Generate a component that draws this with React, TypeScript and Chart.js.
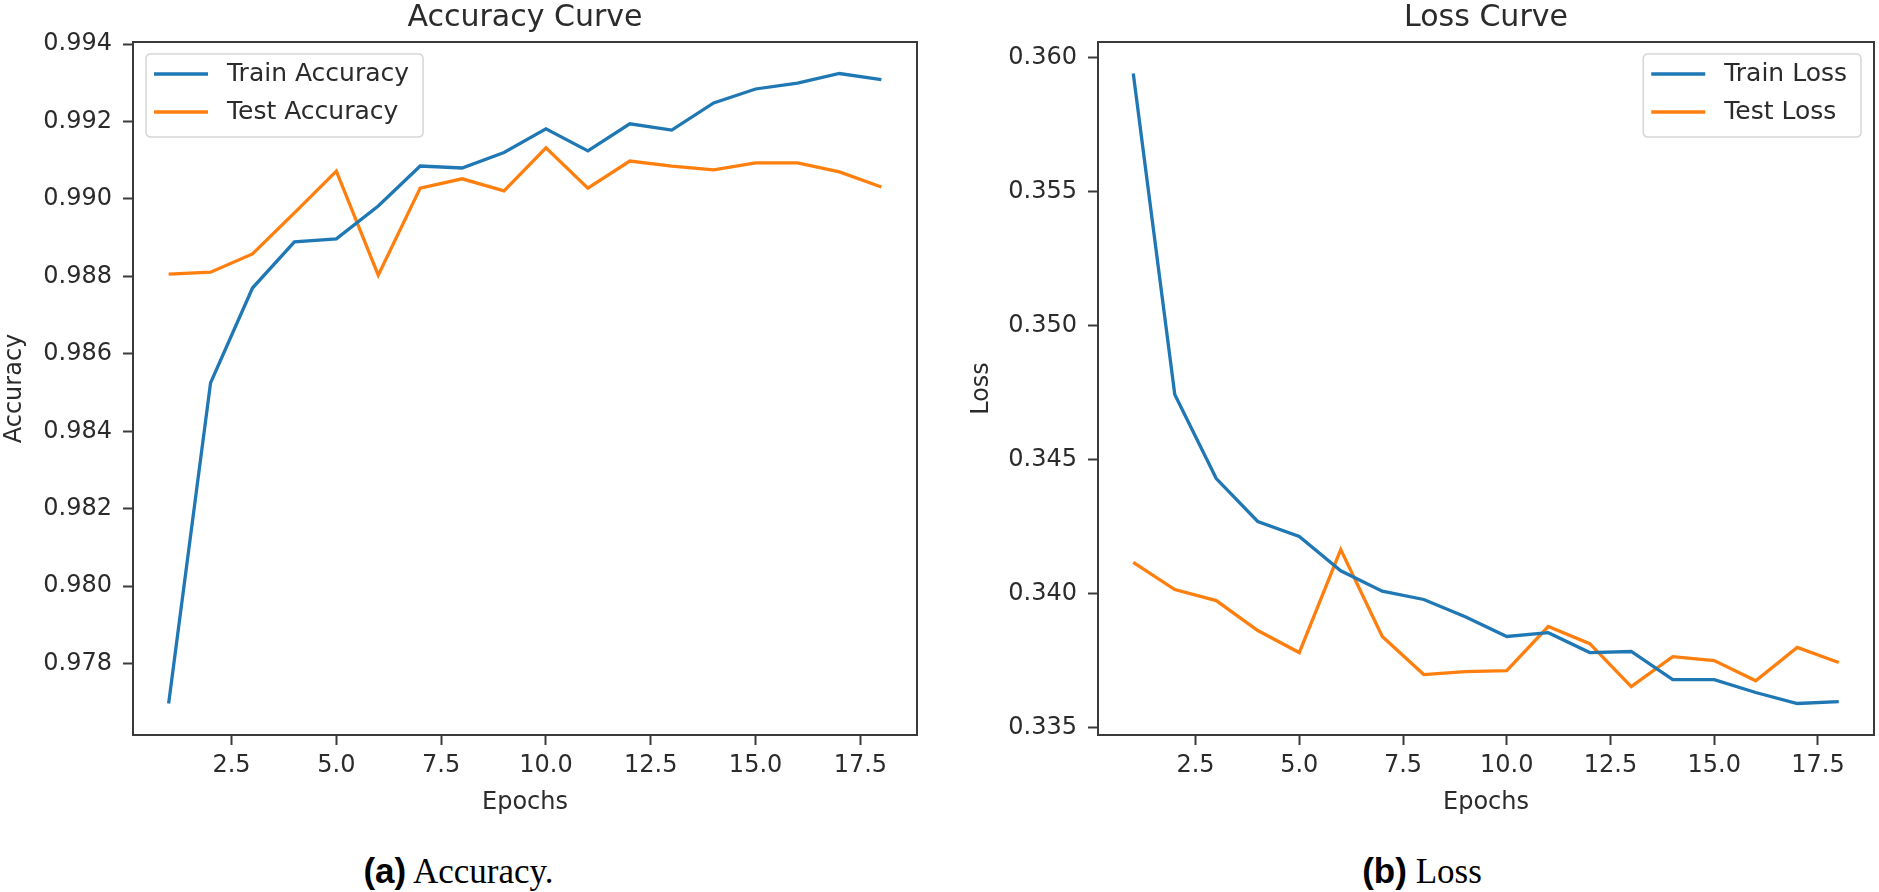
import React, { useEffect, useRef } from 'react';
import { Chart, registerables } from 'chart.js';

Chart.register(...registerables);

// ---------------- data ----------------
const epochs = [1, 2, 3, 4, 5, 6, 7, 8, 9, 10, 11, 12, 13, 14, 15, 16, 17, 18];
const trainAccuracy = [0.97697, 0.98525, 0.9877, 0.98889, 0.98897, 0.98982, 0.99085, 0.9908, 0.9912, 0.99181, 0.99124, 0.99194, 0.99178, 0.99248, 0.99284, 0.99299, 0.99324, 0.99308];
const testAccuracy = [0.98806, 0.98811, 0.98858, 0.98964, 0.99072, 0.98803, 0.99028, 0.99052, 0.99021, 0.99132, 0.99028, 0.99098, 0.99085, 0.99075, 0.99093, 0.99093, 0.9907, 0.99031];
const trainLoss = [0.3594, 0.34743, 0.34429, 0.34269, 0.34213, 0.34085, 0.34009, 0.33978, 0.33914, 0.3384, 0.33854, 0.3378, 0.33784, 0.33679, 0.33679, 0.33631, 0.3359, 0.33597];
const testLoss = [0.34116, 0.34015, 0.33974, 0.33862, 0.3378, 0.34164, 0.3384, 0.33698, 0.33709, 0.33713, 0.33877, 0.33813, 0.33653, 0.33765, 0.3375, 0.33675, 0.33799, 0.33743];
const accuracyTicks = [0.978, 0.98, 0.982, 0.984, 0.986, 0.988, 0.99, 0.992, 0.994];
const lossTicks = [0.335, 0.34, 0.345, 0.35, 0.355, 0.36];
const epochTicks = [2.5, 5, 7.5, 10, 12.5, 15, 17.5];

// ---------------- styles ----------------
const BLUE = '#1f77b4';
const ORANGE = '#ff7f0e';
const TEXT = '#2b2b2b';
const AXIS = '#3a3a3a';
const FONT = '"DejaVu Sans", sans-serif';

function margins(values: number[], frac: number) {
  const lo = Math.min(...values);
  const hi = Math.max(...values);
  const pad = (hi - lo) * frac;
  return { min: lo - pad, max: hi + pad };
}

const framePlugin = {
  id: 'frame',
  afterDraw(chart: any) {
    const { ctx, chartArea: a } = chart;
    ctx.save();
    ctx.strokeStyle = AXIS;
    ctx.lineWidth = 2;
    ctx.strokeRect(a.left, a.top, a.right - a.left, a.bottom - a.top);
    ctx.restore();
  },
};

const boxLegendPlugin = {
  id: 'boxLegend',
  afterDraw(chart: any, _args: any, opts: any) {
    const { ctx, chartArea: a } = chart;
    const items = chart.data.datasets.map((d: any) => ({ label: d.label, color: d.borderColor }));
    ctx.save();
    ctx.font = `25px ${FONT}`;
    const textW = Math.max(...items.map((it: any) => ctx.measureText(it.label).width));
    const padL = 8, lineLen = 54, gap = 19, padR = 14, rowGap = 38, h = 83;
    const w = padL + lineLen + gap + textW + padR;
    const x = opts.align === 'right' ? a.right - 13 - w : a.left + 13;
    const y = a.top + 12;
    const r = 5;
    ctx.beginPath();
    ctx.moveTo(x + r, y);
    ctx.lineTo(x + w - r, y);
    ctx.quadraticCurveTo(x + w, y, x + w, y + r);
    ctx.lineTo(x + w, y + h - r);
    ctx.quadraticCurveTo(x + w, y + h, x + w - r, y + h);
    ctx.lineTo(x + r, y + h);
    ctx.quadraticCurveTo(x, y + h, x, y + h - r);
    ctx.lineTo(x, y + r);
    ctx.quadraticCurveTo(x, y, x + r, y);
    ctx.closePath();
    ctx.fillStyle = 'rgba(255,255,255,0.85)';
    ctx.fill();
    ctx.strokeStyle = '#d6d6d6';
    ctx.lineWidth = 1.5;
    ctx.stroke();
    items.forEach((it: any, i: number) => {
      const cy = y + 20 + i * rowGap;
      ctx.beginPath();
      ctx.strokeStyle = it.color;
      ctx.lineWidth = 3.5;
      ctx.moveTo(x + padL, cy);
      ctx.lineTo(x + padL + lineLen, cy);
      ctx.stroke();
      ctx.fillStyle = TEXT;
      ctx.textBaseline = 'middle';
      ctx.textAlign = 'left';
      ctx.fillText(it.label, x + padL + lineLen + gap, cy);
    });
    ctx.restore();
  },
};

interface PanelSpec {
  title: string;
  yTitle: string;
  labels: [string, string];
  series: [number[], number[]];
  yTicks: number[];
  yAxisWidth: number;
  yTitlePad: number;
  padRight: number;
  legendAlign: 'left' | 'right';
}

function makeConfig(p: PanelSpec): any {
  const yr = margins([...p.series[0], ...p.series[1]], 0.05);
  const xr = margins(epochs, 0.05);
  const tickFont = { family: FONT, size: 24 };
  return {
    type: 'line',
    data: {
      datasets: [
        {
          label: p.labels[0],
          data: epochs.map((e, i) => ({ x: e, y: p.series[0][i] })),
          borderColor: BLUE,
          backgroundColor: BLUE,
          borderWidth: 3.3,
          pointRadius: 0,
          tension: 0,
        },
        {
          label: p.labels[1],
          data: epochs.map((e, i) => ({ x: e, y: p.series[1][i] })),
          borderColor: ORANGE,
          backgroundColor: ORANGE,
          borderWidth: 3.3,
          pointRadius: 0,
          tension: 0,
        },
      ],
    },
    options: {
      animation: false,
      responsive: false,
      maintainAspectRatio: false,
      events: [],
      layout: { padding: { left: 0, right: p.padRight, top: 0, bottom: 0 } },
      plugins: {
        legend: { display: false },
        tooltip: { enabled: false },
        title: {
          display: true,
          text: p.title,
          fullSize: false,
          color: TEXT,
          font: { family: FONT, size: 30, weight: 'normal' },
          padding: { top: 0.5, bottom: 5.5 },
        },
        boxLegend: { align: p.legendAlign },
      },
      scales: {
        x: {
          type: 'linear',
          position: 'bottom',
          min: xr.min,
          max: xr.max,
          afterBuildTicks: (s: any) => {
            s.ticks = epochTicks.map((v) => ({ value: v }));
          },
          afterFit: (s: any) => {
            s.height = 85;
          },
          ticks: {
            autoSkip: false,
            maxRotation: 0,
            padding: 6,
            color: TEXT,
            font: tickFont,
            callback: (v: any) => Number(v).toFixed(1),
          },
          grid: { drawOnChartArea: false, drawTicks: true, tickLength: 10, tickWidth: 2, tickColor: AXIS },
          border: { display: true, color: AXIS, width: 2 },
          title: {
            display: true,
            text: 'Epochs',
            color: TEXT,
            font: tickFont,
            padding: { top: 0, bottom: 3 },
          },
        },
        y: {
          type: 'linear',
          position: 'left',
          min: yr.min,
          max: yr.max,
          afterBuildTicks: (s: any) => {
            s.ticks = p.yTicks.map((v) => ({ value: v }));
          },
          afterFit: (s: any) => {
            s.width = p.yAxisWidth;
          },
          ticks: {
            autoSkip: false,
            padding: 11,
            color: TEXT,
            font: tickFont,
            callback: (v: any) => Number(v).toFixed(3),
          },
          grid: { drawOnChartArea: false, drawTicks: true, tickLength: 10, tickWidth: 2, tickColor: AXIS },
          border: { display: true, color: AXIS, width: 2 },
          title: {
            display: true,
            text: p.yTitle,
            color: TEXT,
            font: tickFont,
            padding: { top: p.yTitlePad, bottom: 0 },
          },
        },
      },
    },
    plugins: [framePlugin, boxLegendPlugin],
  };
}

function Panel({ spec, left, width, height }: { spec: PanelSpec; left: number; width: number; height: number }) {
  const ref = useRef<HTMLCanvasElement>(null);
  useEffect(() => {
    const chart = new Chart(ref.current as HTMLCanvasElement, makeConfig(spec));
    return () => chart.destroy();
  }, []);
  return (
    <canvas
      ref={ref}
      width={width}
      height={height}
      style={{ position: 'absolute', left, top: 0, width, height }}
    />
  );
}

const accuracySpec: PanelSpec = {
  title: 'Accuracy Curve',
  yTitle: 'Accuracy',
  labels: ['Train Accuracy', 'Test Accuracy'],
  series: [trainAccuracy, testAccuracy],
  yTicks: accuracyTicks,
  yAxisWidth: 133,
  yTitlePad: 0,
  padRight: 43,
  legendAlign: 'left',
};

const lossSpec: PanelSpec = {
  title: 'Loss Curve',
  yTitle: 'Loss',
  labels: ['Train Loss', 'Test Loss'],
  series: [trainLoss, testLoss],
  yTicks: lossTicks,
  yAxisWidth: 138,
  yTitlePad: 7,
  padRight: 5,
  legendAlign: 'right',
};

const captionStyle: React.CSSProperties = {
  position: 'absolute',
  top: 851,
  textAlign: 'center',
  fontSize: 35,
  lineHeight: '40px',
  fontFamily: '"Liberation Serif", "Times New Roman", serif',
  color: '#000',
  whiteSpace: 'nowrap',
};
const boldStyle: React.CSSProperties = {
  fontFamily: '"Liberation Sans", Arial, sans-serif',
  fontWeight: 'bold',
};

export default function App() {
  return (
    <div style={{ position: 'absolute', left: 0, top: 0, width: 1879, height: 892, background: '#fff', overflow: 'hidden' }}>
      <Panel spec={accuracySpec} left={0} width={960} height={820} />
      <Panel spec={lossSpec} left={960} width={919} height={820} />
      <div style={{ ...captionStyle, left: 0, width: 917 }}>
        <span style={boldStyle}>(a)</span> Accuracy.
      </div>
      <div style={{ ...captionStyle, left: 965, width: 914 }}>
        <span style={boldStyle}>(b)</span> Loss
      </div>
    </div>
  );
}
